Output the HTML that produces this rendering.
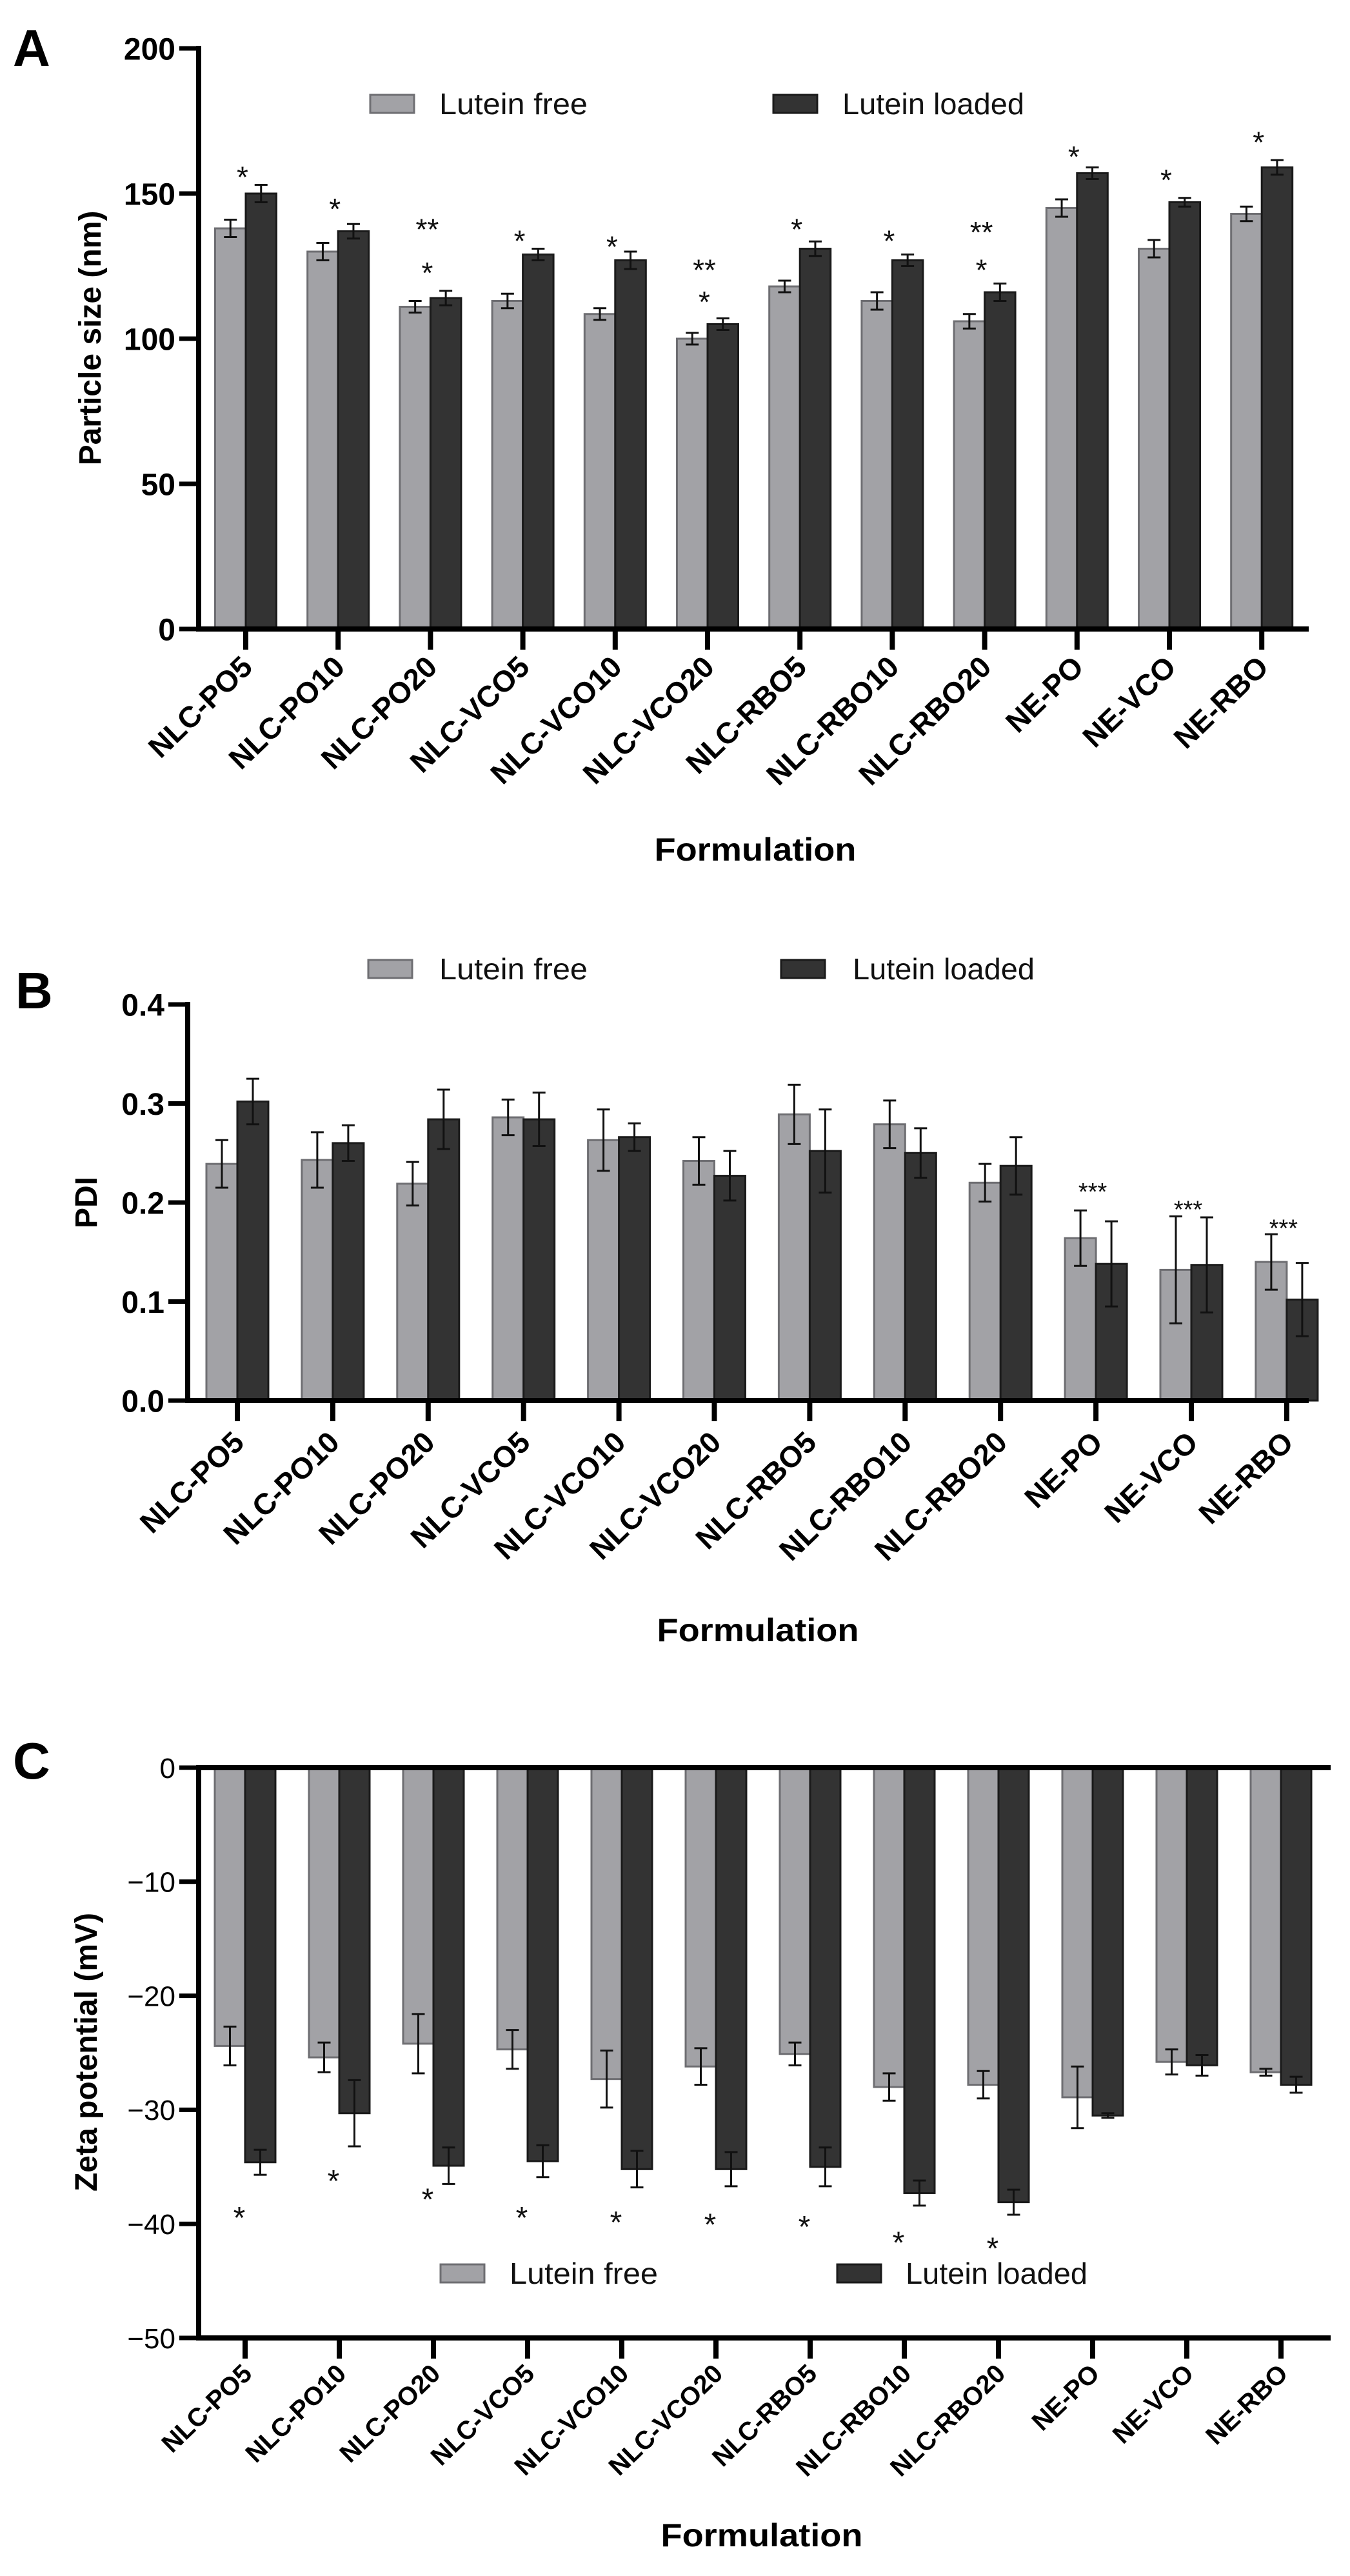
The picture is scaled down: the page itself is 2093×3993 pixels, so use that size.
<!DOCTYPE html>
<html><head><meta charset="utf-8">
<style>
html,body{margin:0;padding:0;background:#fff;}
svg{display:block;font-family:"Liberation Sans",sans-serif;}
</style></head>
<body>
<svg id="fig" width="2093" height="3993" viewBox="0 0 2093 3993" xmlns="http://www.w3.org/2000/svg">
<rect x="0" y="0" width="2093" height="3993" fill="#fff"/>
</svg>
<script>
const categories = ["NLC-PO5","NLC-PO10","NLC-PO20","NLC-VCO5","NLC-VCO10","NLC-VCO20","NLC-RBO5","NLC-RBO10","NLC-RBO20","NE-PO","NE-VCO","NE-RBO"];
// Panel A: particle size (nm)
const aFree = [138,130,111,113,108.5,100,118,113,106,145,131,143];
const aFreeErr = [3,3,2,2.5,2,2,2,3,2.5,3,3,2.5];
const aLoaded = [150,137,114,129,127,105,131,127,116,157,147,159];
const aLoadedErr = [3,2.5,2.5,2,3,2,2.5,2,3,2,1.5,2.5];
const aStarText = ["*","*","**|*","*","*","**|*","*","*","**|*","*","*","*"];
const aStarVals = [[158],[147],[140,125],[136],[134],[126,115],[140],[136],[139,126],[165],[157],[170]];
const aTicks = [0,50,100,150,200];
// Panel B: PDI
const bFree = [0.239,0.243,0.219,0.286,0.263,0.242,0.289,0.279,0.220,0.164,0.132,0.140];
const bFreeErr = [0.024,0.028,0.022,0.018,0.031,0.024,0.030,0.024,0.019,0.028,0.054,0.028];
const bLoaded = [0.302,0.260,0.284,0.284,0.266,0.227,0.252,0.250,0.237,0.138,0.137,0.102];
const bLoadedErr = [0.023,0.018,0.030,0.027,0.014,0.025,0.042,0.025,0.029,0.043,0.048,0.037];
const bStarText = ["","","","","","","","","","***","***","***"];
const bStarVals = [[],[],[],[],[],[],[],[],[],[0.217],[0.199],[0.180]];
const bTicks = [0.0,0.1,0.2,0.3,0.4];
// Panel C: zeta potential (mV)
const cFree = [-24.4,-25.4,-24.2,-24.7,-27.3,-26.2,-25.1,-28.0,-27.8,-28.9,-25.8,-26.7];
const cFreeErr = [1.7,1.3,2.6,1.7,2.5,1.6,1.0,1.2,1.2,2.7,1.1,0.3];
const cLoaded = [-34.6,-30.3,-34.9,-34.5,-35.2,-35.2,-35.0,-37.3,-38.1,-30.5,-26.1,-27.8];
const cLoadedErr = [1.1,2.9,1.6,1.4,1.6,1.5,1.7,1.1,1.1,0.2,0.9,0.7];
const cStarText = ["*","*","*","*","*","*","*","*","*","","",""];
const cStarVals = [[-38.8],[-35.6],[-37.2],[-38.8],[-39.2],[-39.4],[-39.6],[-41.0],[-41.5],[],[],[]];
const cTicks = [0,-10,-20,-30,-40,-50];

const NS="http://www.w3.org/2000/svg";
const svg=document.getElementById('fig');
function mk(tag,attrs,parent){const e=document.createElementNS(NS,tag);for(const k in attrs)e.setAttribute(k,attrs[k]);(parent||svg).appendChild(e);return e;}

function drawPanel(p){
  const g=mk('g',{});
  
  
  const y=v=>p.yBot+(v-p.vBot)/(p.vTop-p.vBot)*(p.yTop-p.yBot);
  const cx=i=>p.c0+i*p.step;
  const y0=y(0);
  categories.forEach((c,i)=>{
    const vals=[[p.free[i],p.freeErr[i],'#a2a2a6','#6e6e72',-1,'free'],[p.loaded[i],p.loadedErr[i],'#333333','#1a1a1a',1,'loaded']];
    vals.forEach(([v,e,fill,st,side,nm])=>{
      const xL=side<0?cx(i)-p.bw:cx(i);
      const yv=y(v);
      const r=mk('rect',{x:xL,y:Math.min(yv,y0),width:p.bw,height:Math.abs(yv-y0),fill:fill,stroke:st,'stroke-width':3},g);
      
      
      const xm=xL+p.bw/2;
      const eg=mk('g',{stroke:'#111','stroke-width':3},g);
      
      
      mk('line',{x1:xm,x2:xm,y1:y(v-e),y2:y(v+e)},eg);
      mk('line',{x1:xm-10,x2:xm+10,y1:y(v-e),y2:y(v-e)},eg);
      mk('line',{x1:xm-10,x2:xm+10,y1:y(v+e),y2:y(v+e)},eg);
    });
    const st=p.starText[i]?p.starText[i].split('|'):[];
    st.forEach((s,k)=>{
      const t=mk('text',{x:cx(i)+p.starDx,y:y(p.starVals[i][k])+p.starSize*0.58,'text-anchor':'middle','font-size':p.starSize,fill:'#111'},g);
      t.textContent=s;
      
      
    });
    const tk=mk('line',{x1:cx(i),x2:cx(i),y1:p.catAxisY,y2:p.catAxisY+32,stroke:'#000','stroke-width':8},g);
    
    
    const lx=cx(i)+13, ly=p.catAxisY+p.labOff;
    const lt=mk('text',{x:lx,y:ly,'text-anchor':'end','font-size':p.labSize,'font-weight':'bold',transform:`rotate(-44 ${lx} ${ly})`,fill:'#000'},g);
    lt.textContent=c;
    
    
  });
  const ax=mk('g',{stroke:'#000','stroke-width':8,fill:'none'},g);
  
  
  mk('line',{x1:p.x0,x2:p.x0,y1:y(p.vTop)-4,y2:y(p.vBot)+4},ax);
  mk('line',{x1:p.x0,x2:p.xEnd,y1:y0,y2:y0},ax);
  if(p.catAxisY!==y0) mk('line',{x1:p.x0,x2:p.xEnd,y1:p.catAxisY,y2:p.catAxisY},ax);
  p.ticks.forEach(t=>{
    mk('line',{x1:p.x0-30,x2:p.x0,y1:y(t),y2:y(t),'stroke-width':7},ax);
    const tl=mk('text',{x:p.x0-36,y:y(t)+p.tickSize*0.36,'text-anchor':'end','font-size':p.tickSize,'font-weight':p.tickWeight,fill:'#000'},g);
    tl.textContent=p.fmt(t);
    
    
  });
  const yt=mk('text',{x:p.ytX,y:p.ytY,'text-anchor':'middle','font-size':48,'font-weight':'bold',transform:`rotate(-90 ${p.ytX} ${p.ytY})`,fill:'#000'},g);
  yt.textContent=p.ytitle;
  
  
  const xt=mk('text',{x:p.xtX,y:p.xtY+17,'text-anchor':'middle','font-size':50,'font-weight':'bold',textLength:313,lengthAdjust:'spacingAndGlyphs',fill:'#000'},g);
  xt.textContent='Formulation';
  
  
  const pl=mk('text',{x:p.letterX,y:p.letterY,'font-size':80,'font-weight':'bold',fill:'#000'},g);
  pl.textContent=p.letter;
  
  
  const lg=mk('g',{},g);
  
  
  [[p.leg[0],'#a2a2a6','#6e6e72','Lutein free',p.leg[1]],[p.leg[2],'#333333','#1a1a1a','Lutein loaded',p.leg[3]]].forEach(([bx,f,s,txt,tx])=>{
    const e=mk('g',{},lg);
    
    
    mk('rect',{x:bx,y:p.legY-14,width:68,height:28,fill:f,stroke:s,'stroke-width':3},e);
    const t=mk('text',{x:tx,y:p.legY+16,'font-size':46,fill:'#111',textLength:txt.length===11?230:282,lengthAdjust:'spacingAndGlyphs'},e);
    t.textContent=txt;
  });
}

drawPanel({name:'chart-particle-size',free:aFree,freeErr:aFreeErr,loaded:aLoaded,loadedErr:aLoadedErr,starText:aStarText,starVals:aStarVals,ticks:aTicks,
  vTop:200,vBot:0,yTop:75,yBot:975,x0:308,xEnd:2029,c0:381,step:143.2,bw:47.5,catAxisY:975,labOff:62,labSize:46,
  tickSize:48,tickWeight:'bold',fmt:t=>String(t),starSize:46,starDx:-5,
  ytitle:'Particle size (nm)',ytX:156,ytY:524,xtX:1171,xtY:1317,letter:'A',letterX:20,letterY:102,
  leg:[574,681,1199,1306],legY:161});
drawPanel({name:'chart-pdi',free:bFree,freeErr:bFreeErr,loaded:bLoaded,loadedErr:bLoadedErr,starText:bStarText,starVals:bStarVals,ticks:bTicks,
  vTop:0.4,vBot:0,yTop:1557,yBot:2171,x0:291,xEnd:2029,c0:368,step:147.9,bw:48,catAxisY:2171,labOff:68,labSize:46,
  tickSize:48,tickWeight:'bold',fmt:t=>t.toFixed(1),starSize:38,starDx:-5,
  ytitle:'PDI',ytX:150,ytY:1864,xtX:1175,xtY:2527,letter:'B',letterX:24,letterY:1563,
  leg:[571,681,1211,1322],legY:1502});
drawPanel({name:'chart-zeta-potential',free:cFree,freeErr:cFreeErr,loaded:cLoaded,loadedErr:cLoadedErr,starText:cStarText,starVals:cStarVals,ticks:cTicks,
  vTop:0,vBot:-50,yTop:2740,yBot:3624,x0:308,xEnd:2063,c0:380,step:146,bw:47,catAxisY:3624,labOff:58,labSize:40,
  tickSize:44,tickWeight:'normal',fmt:t=>t===0?'0':'\u2212'+Math.abs(t),starSize:48,starDx:-9,
  ytitle:'Zeta potential (mV)',ytX:150,ytY:3181,xtX:1181,xtY:3930,letter:'C',letterX:20,letterY:2757,
  leg:[683,790,1298,1404],legY:3524});
</script>
</body></html>
